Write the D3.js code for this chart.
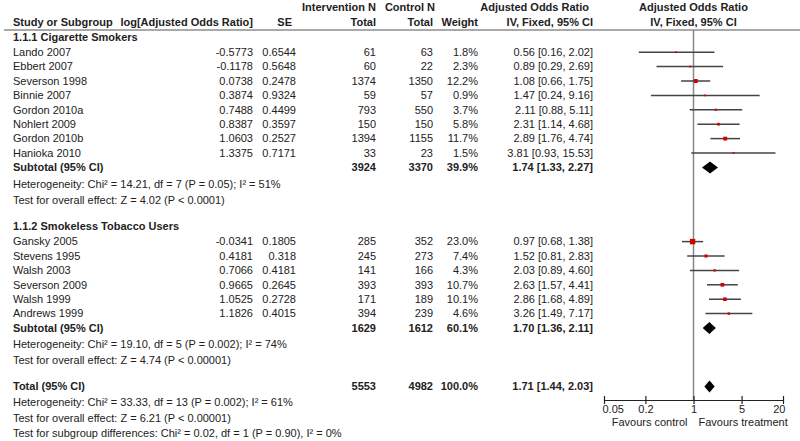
<!DOCTYPE html>
<html>
<head>
<meta charset="utf-8">
<script src="https://cdn.jsdelivr.net/npm/d3@7"></script>
<style>
  body { margin: 0; background: #fff; }
  svg text { font-family: "Liberation Sans", Arial, sans-serif; font-size: 11px; fill: #222; }
  .bold { font-weight: bold; }
</style>
</head>
<body>
<div id="chart"></div>
<script>
// ---- data ----
const groupNames = ["1.1.1 Cigarette Smokers", "1.1.2 Smokeless Tobacco Users"];

const studyNames = ["Lando 2007", "Ebbert 2007", "Severson 1998", "Binnie 2007", "Gordon 2010a",
    "Nohlert 2009", "Gordon 2010b", "Hanioka 2010",
    "Gansky 2005", "Stevens 1995", "Walsh 2003", "Severson 2009", "Walsh 1999", "Andrews 1999"];
const studyGroup = [0, 0, 0, 0, 0, 0, 0, 0, 1, 1, 1, 1, 1, 1];
const logOR = ["-0.5773", "-0.1178", "0.0738", "0.3874", "0.7488", "0.8387", "1.0603", "1.3375",
    "-0.0341", "0.4181", "0.7066", "0.9665", "1.0525", "1.1826"];
const seText = ["0.6544", "0.5648", "0.2478", "0.9324", "0.4499", "0.3597", "0.2527", "0.7171",
    "0.1805", "0.318", "0.4181", "0.2645", "0.2728", "0.4015"];
const interventionN = [61, 60, 1374, 59, 793, 150, 1394, 33, 285, 245, 141, 393, 171, 394];
const controlN = [63, 22, 1350, 57, 550, 150, 1155, 23, 352, 273, 166, 393, 189, 239];
const weights = [1.8, 2.3, 12.2, 0.9, 3.7, 5.8, 11.7, 1.5, 23.0, 7.4, 4.3, 10.7, 10.1, 4.6];
const oddsRatio = [0.56, 0.89, 1.08, 1.47, 2.11, 2.31, 2.89, 3.81, 0.97, 1.52, 2.03, 2.63, 2.86, 3.26];
const ciLow = [0.16, 0.29, 0.66, 0.24, 0.88, 1.14, 1.76, 0.93, 0.68, 0.81, 0.89, 1.57, 1.68, 1.49];
const ciHigh = [2.02, 2.69, 1.75, 9.16, 5.11, 4.68, 4.74, 15.53, 1.38, 2.83, 4.60, 4.41, 4.89, 7.17];

const subInterventionN = [3924, 1629];
const subControlN = [3370, 1612];
const subWeight = [39.9, 60.1];
const subOR = [1.74, 1.70];
const subLow = [1.33, 1.36];
const subHigh = [2.27, 2.11];
const subNotes = [
    ["Heterogeneity: Chi\u00b2 = 14.21, df = 7 (P = 0.05); I\u00b2 = 51%", "Test for overall effect: Z = 4.02 (P < 0.0001)"],
    ["Heterogeneity: Chi\u00b2 = 19.10, df = 5 (P = 0.002); I\u00b2 = 74%", "Test for overall effect: Z = 4.74 (P < 0.00001)"]
];

const totalN = [5553, 4982];
const totalWeight = 100.0;
const totalOR = 1.71, totalLow = 1.44, totalHigh = 2.03;
const totalNotes = ["Heterogeneity: Chi\u00b2 = 33.33, df = 13 (P = 0.002); I\u00b2 = 61%",
    "Test for overall effect: Z = 6.21 (P < 0.00001)",
    "Test for subgroup differences: Chi\u00b2 = 0.02, df = 1 (P = 0.90), I\u00b2 = 0%"];

const axisTicks = [0.05, 0.2, 1, 5, 20];
const favourLabels = ["Favours control", "Favours treatment"];

// ---- layout ----
const width = 800, height = 441;
const col = {name: 13, logor: 253, se: 296, intN: 376, ctlN: 433, weight: 478, ci: 593};
const rowStep = 14.4, noteStep = 16.3, sectionGap = 26;
const plotTop = 30, axisY = 400;

function ciText(o, l, h){
    return o.toFixed(2) + " [" + l.toFixed(2) + ", " + h.toFixed(2) + "]";
}

// build the row list with a running y cursor
let rows = [];
let y = 37;
groupNames.forEach((g, gi) => {
    if(gi > 0){ y += sectionGap; }
    rows.push({type: "group", y: y, label: g});
    y += gi == 0 ? 15.2 : 15.6;
    let idx = studyGroup.map((s, i) => s == gi ? i : -1).filter(i => i >= 0);
    idx.forEach((i, k) => {
        if(k > 0){ y += rowStep; }
        rows.push({type: "study", y: y, i: i});
    });
    y += rowStep;
    rows.push({type: "sub", y: y, g: gi});
    subNotes[gi].forEach(n => {
        y += noteStep;
        rows.push({type: "note", y: y, label: n});
    });
});
y += sectionGap;
rows.push({type: "total", y: y});
totalNotes.forEach((n, k) => {
    y += k == 0 ? 16 : 15.2;
    rows.push({type: "note", y: y, label: n});
});

const svg = d3.select("#chart").append("svg")
    .attr("width", width)
    .attr("height", height);

const x = d3.scaleLog().domain([0.05, 20]).range([604, 783]);
const boxSize = d3.scaleSqrt().domain([0, 23]).range([0, 5.4]);

// ---- headers ----
function txt(xp, yp, s, anchor, bold){
    return svg.append("text")
        .attr("x", xp).attr("y", yp).attr("dy", "0.35em")
        .attr("text-anchor", anchor || "start")
        .attr("class", bold ? "bold" : null)
        .text(s);
}
txt(col.intN, 7.5, "Intervention N", "end", true);
txt(435, 7.5, "Control N", "end", true);
txt(589, 7.5, "Adjusted Odds Ratio", "end", true);
txt(693.5, 7.5, "Adjusted Odds Ratio", "middle", true);
txt(col.name, 22.5, "Study or Subgroup", "start", true);
txt(col.logor, 22.5, "log[Adjusted Odds Ratio]", "end", true);
txt(292, 22.5, "SE", "end", true);
txt(col.intN, 22.5, "Total", "end", true);
txt(col.ctlN, 22.5, "Total", "end", true);
txt(col.weight, 22.5, "Weight", "end", true);
txt(col.ci, 22.5, "IV, Fixed, 95% CI", "end", true);
txt(693.5, 22.5, "IV, Fixed, 95% CI", "middle", true);

svg.append("line")
    .attr("x1", 4).attr("x2", width)
    .attr("y1", plotTop).attr("y2", plotTop)
    .attr("stroke", "#555").attr("stroke-width", 1);

// no-effect line
svg.append("line")
    .attr("x1", x(1)).attr("x2", x(1))
    .attr("y1", plotTop).attr("y2", axisY)
    .attr("stroke", "#888").attr("stroke-width", 1.5);

// ---- table text ----
rows.forEach(r => {
    if(r.type == "group"){
        txt(col.name, r.y, r.label, "start", true);
    }else if(r.type == "note"){
        txt(col.name, r.y, r.label, "start", false);
    }else if(r.type == "study"){
        let i = r.i;
        txt(col.name, r.y, studyNames[i]);
        txt(col.logor, r.y, logOR[i], "end");
        txt(col.se, r.y, seText[i], "end");
        txt(col.intN, r.y, interventionN[i], "end");
        txt(col.ctlN, r.y, controlN[i], "end");
        txt(col.weight, r.y, weights[i].toFixed(1) + "%", "end");
        txt(col.ci, r.y, ciText(oddsRatio[i], ciLow[i], ciHigh[i]), "end");
    }else if(r.type == "sub"){
        let g = r.g;
        txt(col.name, r.y, "Subtotal (95% CI)", "start", true);
        txt(col.intN, r.y, subInterventionN[g], "end", true);
        txt(col.ctlN, r.y, subControlN[g], "end", true);
        txt(col.weight, r.y, subWeight[g].toFixed(1) + "%", "end", true);
        txt(col.ci, r.y, ciText(subOR[g], subLow[g], subHigh[g]), "end", true);
    }else if(r.type == "total"){
        txt(col.name, r.y, "Total (95% CI)", "start", true);
        txt(col.intN, r.y, totalN[0], "end", true);
        txt(col.ctlN, r.y, totalN[1], "end", true);
        txt(col.weight, r.y, totalWeight.toFixed(1) + "%", "end", true);
        txt(col.ci, r.y, ciText(totalOR, totalLow, totalHigh), "end", true);
    }
});

// ---- study marks ----
const studyRows = rows.filter(r => r.type == "study");

svg.selectAll("line.ci")
    .data(studyRows)
    .join("line")
    .attr("class", "ci")
    .attr("x1", d => x(ciLow[d.i]))
    .attr("x2", d => x(ciHigh[d.i]))
    .attr("y1", d => d.y).attr("y2", d => d.y)
    .attr("stroke", "#444").attr("stroke-width", 1.5);

svg.selectAll("rect.box")
    .data(studyRows)
    .join("rect")
    .attr("class", "box")
    .attr("x", d => x(oddsRatio[d.i]) - Math.max(1.8, boxSize(weights[d.i])) / 2)
    .attr("y", d => d.y - Math.max(1.8, boxSize(weights[d.i])) / 2)
    .attr("width", d => Math.max(1.8, boxSize(weights[d.i])))
    .attr("height", d => Math.max(1.8, boxSize(weights[d.i])))
    .attr("fill", "#d40000");

// ---- diamonds ----
const diamondRows = rows.filter(r => r.type == "sub" || r.type == "total").map(r => {
    if(r.type == "sub"){
        return {y: r.y, o: subOR[r.g], l: subLow[r.g], h: subHigh[r.g]};
    }
    return {y: r.y, o: totalOR, l: totalLow, h: totalHigh};
});

svg.selectAll("path.diamond")
    .data(diamondRows)
    .join("path")
    .attr("class", "diamond")
    .attr("d", d => {
        let hh = 6;
        return "M" + x(d.l) + "," + d.y + "L" + x(d.o) + "," + (d.y - hh) +
            "L" + x(d.h) + "," + d.y + "L" + x(d.o) + "," + (d.y + hh) + "Z";
    })
    .attr("fill", "#000");

// ---- axis ----
const axis = d3.axisBottom(x)
    .tickValues(axisTicks)
    .tickFormat(d => String(d))
    .tickSizeOuter(0)
    .tickSizeInner(4);

let gAxis = svg.append("g")
    .attr("transform", "translate(0," + axisY + ")")
    .call(axis);
gAxis.select(".domain").attr("stroke", "#222").attr("stroke-width", 1.2);
gAxis.selectAll(".tick line").attr("y1", -4).attr("y2", 4).attr("stroke", "#222").attr("stroke-width", 1.2);
gAxis.selectAll(".tick text")
    .attr("y", 5)
    .attr("font-size", 11)
    .attr("font-family", "Liberation Sans, Arial, sans-serif")
    .attr("fill", "#222")
    .attr("text-anchor", (d, i) => i == 0 ? "start" : (i == axisTicks.length - 1 ? "end" : "middle"))
    .attr("dx", (d, i) => i == 0 ? -2 : (i == axisTicks.length - 1 ? 2 : 0));

txt(x(1) - 6, 422.5, favourLabels[0], "end");
txt(x(1) + 5, 422.5, favourLabels[1], "start");
</script>
</body>
</html>
